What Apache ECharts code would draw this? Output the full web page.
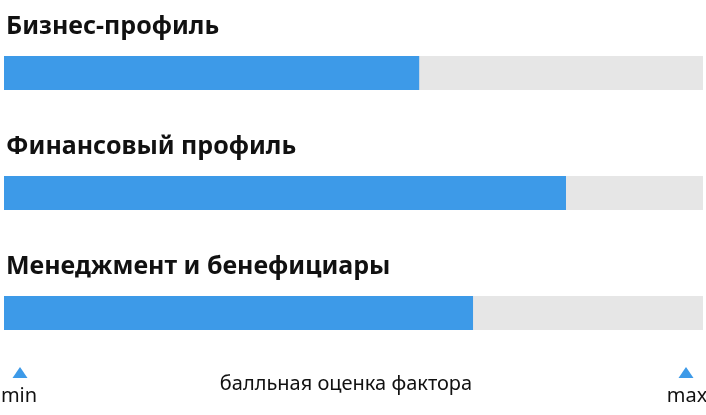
<!DOCTYPE html>
<html>
<head>
<meta charset="utf-8">
<script src="https://cdn.jsdelivr.net/npm/echarts@6/dist/echarts.min.js"></script>
<style>
  html, body { margin: 0; padding: 0; background: #fff; }
  #main { width: 706px; height: 415px; }
</style>
</head>
<body>
<div id="main"></div>
<script>
var factors = ['Бизнес-профиль', 'Финансовый профиль', 'Менеджмент и бенефициары'];
var scores = [59.4, 80.4, 67.1];
var scaleMax = 100;
var axisCaption = 'балльная оценка фактора';
var minLabel = 'min';
var maxLabel = 'max';

var myChart = echarts.init(document.getElementById('main'));

var fullBars = [];
for (var i = 0; i < factors.length; i++) {
    fullBars.push(scaleMax);
}

var option = {
    animation: false,
    grid: {
        left: 4,
        right: 3,
        top: 13,
        height: 360
    },
    xAxis: {
        type: 'value',
        min: 0,
        max: scaleMax,
        show: false
    },
    yAxis: {
        type: 'category',
        data: factors,
        inverse: true,
        show: false
    },
    series: [
        {
            name: 'фон',
            type: 'bar',
            data: fullBars,
            barWidth: 34,
            barGap: '-100%',
            silent: true,
            itemStyle: { color: '#e6e6e6' },
            label: {
                show: true,
                position: [2, -16],
                verticalAlign: 'bottom',
                align: 'left',
                formatter: '{b}',
                color: '#111',
                fontFamily: 'Noto Sans',
                fontWeight: 'bold',
                fontSize: 25,
                lineHeight: 26
            }
        },
        {
            name: 'оценка',
            type: 'bar',
            data: scores,
            barWidth: 34,
            itemStyle: { color: '#3d9ae8' }
        }
    ],
    graphic: [
        {
            type: 'polygon',
            shape: { points: [[20, 367], [12.5, 378], [27.5, 378]] },
            style: { fill: '#3d9ae8' }
        },
        {
            type: 'polygon',
            shape: { points: [[686, 367], [678.5, 378], [693.5, 378]] },
            style: { fill: '#3d9ae8' }
        },
        {
            type: 'text',
            x: 19, y: 396,
            style: {
                text: minLabel, fill: '#111', fontFamily: 'Noto Sans', fontSize: 20,
                align: 'center', verticalAlign: 'middle'
            }
        },
        {
            type: 'text',
            x: 687, y: 396,
            style: {
                text: maxLabel, fill: '#111', fontFamily: 'Noto Sans', fontSize: 20,
                align: 'center', verticalAlign: 'middle'
            }
        },
        {
            type: 'text',
            x: 346, y: 384,
            style: {
                text: axisCaption, fill: '#111', fontFamily: 'Noto Sans', fontSize: 20,
                align: 'center', verticalAlign: 'middle'
            }
        }
    ]
};

myChart.setOption(option);
</script>
</body>
</html>
